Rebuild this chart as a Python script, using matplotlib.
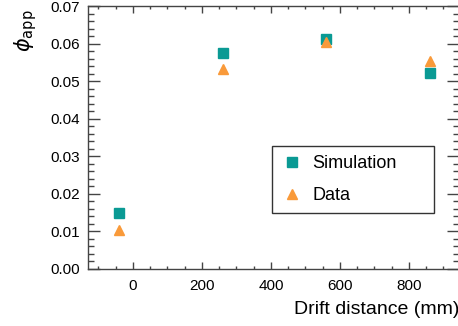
import matplotlib
matplotlib.use("Agg")
import matplotlib.pyplot as plt
from matplotlib.ticker import MultipleLocator

# drift distances (mm) and apparent phi values
drift = [-40, 260, 560, 860]
phi_sim = [0.0150, 0.0575, 0.0611, 0.0522]
phi_data = [0.0103, 0.0532, 0.0605, 0.0553]

plt.rcParams['font.family'] = ['Liberation Sans Narrow', 'Liberation Sans', 'DejaVu Sans']
plt.rcParams['mathtext.fontset'] = 'dejavusans'

fig = plt.figure(figsize=(4.58, 3.26), dpi=100)
W, H = 458., 326.
ax = fig.add_axes([88 / W, 1 - 269 / H, (459 - 88) / W, (269 - 6) / H])

teal = '#0a9a94'
orange = '#f99a3a'
ax.plot(drift, phi_sim, ls='none', marker='s', ms=6.5, color=teal, label='Simulation')
ax.plot(drift, phi_data, ls='none', marker='^', ms=7, color=orange, label='Data')

ax.set_xlim(-130, 945)
ax.set_ylim(0, 0.07)

ax.xaxis.set_major_locator(MultipleLocator(200))
ax.xaxis.set_minor_locator(MultipleLocator(50))
ax.yaxis.set_major_locator(MultipleLocator(0.01))
ax.yaxis.set_minor_locator(MultipleLocator(0.002))
ax.yaxis.set_major_formatter(plt.FormatStrFormatter('%.2f'))

axis_col = '#444444'
for s in ax.spines.values():
    s.set_color(axis_col)
    s.set_linewidth(1.0)
ax.tick_params(axis='both', which='both', direction='in', top=True, right=True,
               color=axis_col, width=1.0, labelsize=11)
ax.tick_params(axis='x', which='major', length=5, pad=7)
ax.tick_params(axis='x', which='minor', length=2.5)
ax.tick_params(axis='y', which='major', length=8.5, pad=6)
ax.tick_params(axis='y', which='minor', length=4.3)

ax.set_xlabel('Drift distance (mm)', fontsize=14, loc='right', labelpad=6)
ax.set_ylabel(r'$\phi_{\mathrm{app}}$', fontsize=15, loc='top', labelpad=8)
ax.yaxis.label.set_y(0.985)

ax.legend(loc='upper left', bbox_to_anchor=(0.496, 0.194, 0.437, 0.274), mode='expand',
          borderaxespad=0, fontsize=13, borderpad=0.5, labelspacing=0.83,
          handlelength=1.22, handletextpad=0.5, fancybox=False, framealpha=1,
          edgecolor='#333333', numpoints=1)
ax.get_legend().get_frame().set_linewidth(1.0)

fig.savefig('out.png', dpi=100)
